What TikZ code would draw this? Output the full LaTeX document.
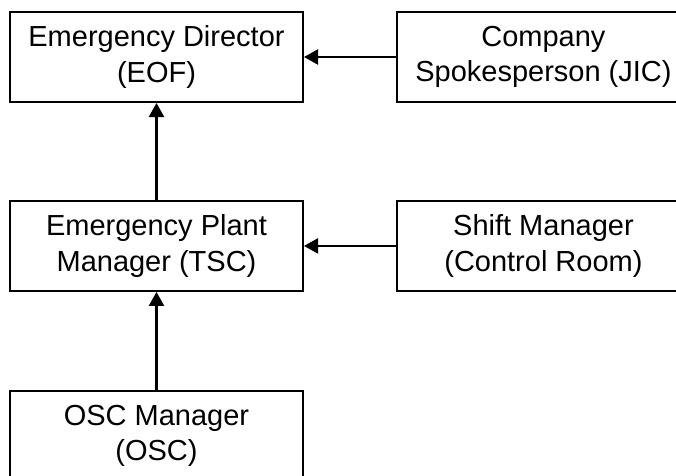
\documentclass[tikz,border=0pt]{standalone}
\usepackage{fontspec}
\setmainfont{Liberation Sans}
\usetikzlibrary{arrows.meta,positioning}
\tikzset{
  rolebox/.style={draw,line width=1.1pt,minimum width=5.86cm,minimum height=1.8cm,
    align=center,inner sep=0pt,font=\fontsize{16.5}{20.3}\selectfont},
  report/.style={line width=1.4pt,-{Triangle[length=8pt,width=8.5pt]}}
}
\begin{document}
\begin{tikzpicture}
  \useasboundingbox (0,0) rectangle (13.52,-9.5);
  \clip (0,0) rectangle (13.52,-9.5);
  \node[rolebox] (director) at (3.13,-1.14) {Emergency Director\\(EOF)};
  \node[rolebox,right=1.84cm of director] (spokes) {Company\\Spokesperson (JIC)};
  \node[rolebox,below=1.94cm of director] (plant) {Emergency Plant\\Manager (TSC)};
  \node[rolebox,right=1.84cm of plant] (shift) {Shift Manager\\(Control Room)};
  \node[rolebox,below=1.96cm of plant] (osc) {OSC Manager\\(OSC)};
  \draw[report] (spokes) -- (director);
  \draw[report] (shift) -- (plant);
  \draw[report] (plant) -- (director);
  \draw[report] (osc) -- (plant);
\end{tikzpicture}
\end{document}
